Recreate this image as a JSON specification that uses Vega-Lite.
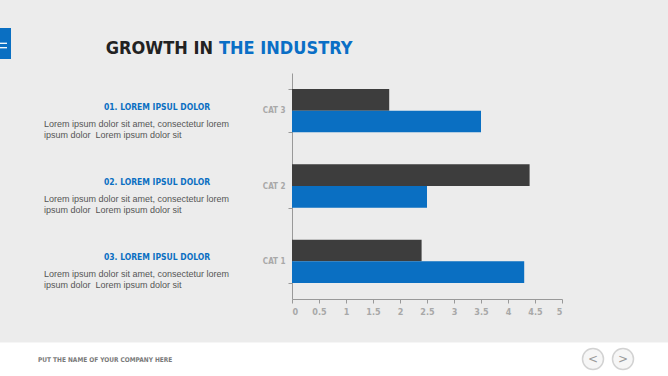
{
  "$schema": "https://vega.github.io/schema/vega-lite/v6.json",
  "autosize": {"type": "none"},
  "width": 270,
  "height": 226,
  "padding": {"left": 292, "top": 73, "right": 106, "bottom": 77},
  "background": "#ececec",
  "config": {
    "view": {"stroke": null},
    "font": "Liberation Sans"
  },
  "datasets": {
    "bars": [
      {"cat": "CAT 3", "series": "A", "value": 1.8},
      {"cat": "CAT 3", "series": "B", "value": 3.5},
      {"cat": "CAT 2", "series": "A", "value": 4.4},
      {"cat": "CAT 2", "series": "B", "value": 2.5},
      {"cat": "CAT 1", "series": "A", "value": 2.4},
      {"cat": "CAT 1", "series": "B", "value": 4.3}
    ],
    "desc": [
      {"cat": "CAT 3", "head": "01. LOREM IPSUL DOLOR", "l1": "Lorem ipsum dolor sit amet, consectetur lorem", "l2": "ipsum dolor\u00a0 Lorem ipsum dolor sit"},
      {"cat": "CAT 2", "head": "02. LOREM IPSUL DOLOR", "l1": "Lorem ipsum dolor sit amet, consectetur lorem", "l2": "ipsum dolor\u00a0 Lorem ipsum dolor sit"},
      {"cat": "CAT 1", "head": "03. LOREM IPSUL DOLOR", "l1": "Lorem ipsum dolor sit amet, consectetur lorem", "l2": "ipsum dolor\u00a0 Lorem ipsum dolor sit"}
    ],
    "one": [{"a": 1}],
    "nav": [{"k": "prev", "s": "<"}, {"k": "next", "s": ">"}]
  },
  "layer": [
    {
      "data": {"name": "one"},
      "mark": {"type": "rect", "color": "#ffffff"},
      "encoding": {
        "x": {"value": -292}, "x2": {"value": 376},
        "y": {"value": 269.5}, "y2": {"value": 303}
      }
    },
    {
      "data": {"name": "one"},
      "mark": {"type": "rect", "color": "#0a6fc2"},
      "encoding": {
        "x": {"value": -292}, "x2": {"value": -281},
        "y": {"value": -45}, "y2": {"value": -14}
      }
    },
    {
      "data": {"name": "one"},
      "mark": {"type": "rule", "color": "#ffffff", "strokeWidth": 1.3},
      "encoding": {
        "x": {"value": -292}, "x2": {"value": -285},
        "y": {"value": -29.7}
      }
    },
    {
      "data": {"name": "one"},
      "mark": {"type": "rule", "color": "#ffffff", "strokeWidth": 1.3},
      "encoding": {
        "x": {"value": -292}, "x2": {"value": -285},
        "y": {"value": -25.3}
      }
    },
    {
      "data": {"name": "one"},
      "mark": {"type": "text", "text": "GROWTH IN", "align": "right", "baseline": "alphabetic", "font": "DejaVu Sans Condensed, Liberation Sans Narrow, Roboto, sans-serif", "fontWeight": "bold", "fontSize": 18, "color": "#222222"},
      "encoding": {"x": {"value": -79}, "y": {"value": -19}}
    },
    {
      "data": {"name": "one"},
      "mark": {"type": "text", "text": "THE INDUSTRY", "align": "left", "baseline": "alphabetic", "font": "DejaVu Sans Condensed, Liberation Sans Narrow, Roboto, sans-serif", "fontWeight": "bold", "fontSize": 18, "color": "#0a6fc6"},
      "encoding": {"x": {"value": -73}, "y": {"value": -19}}
    },
    {
      "data": {"name": "bars"},
      "mark": {"type": "bar"},
      "encoding": {
        "y": {
          "field": "cat", "type": "nominal",
          "sort": ["CAT 3", "CAT 2", "CAT 1"],
          "scale": {"paddingInner": 0.425, "paddingOuter": 0.2125},
          "axis": {
            "title": null, "tickBand": "extent", "domainColor": "#999999", "tickColor": "#999999",
            "tickSize": 4, "labelColor": "#a8a8a8", "labelFont": "DejaVu Sans Condensed, Liberation Sans Narrow, Roboto, sans-serif",
            "labelFontWeight": "bold", "labelFontSize": 8, "labelPadding": 3
          }
        },
        "yOffset": {"field": "series", "type": "nominal", "sort": ["A", "B"], "scale": {"paddingInner": 0, "paddingOuter": 0}},
        "x": {
          "field": "value", "type": "quantitative",
          "scale": {"domain": [0, 5], "nice": false},
          "axis": {
            "title": null, "grid": false, "values": [0, 0.5, 1, 1.5, 2, 2.5, 3, 3.5, 4, 4.5, 5], "format": "~g",
            "domainColor": "#999999", "tickColor": "#999999", "tickSize": 4,
            "labelColor": "#a8a8a8", "labelFont": "DejaVu Sans Condensed, Liberation Sans Narrow, Roboto, sans-serif", "labelFontWeight": "bold",
            "labelFontSize": 9, "labelPadding": 4
          }
        },
        "color": {"field": "series", "type": "nominal", "scale": {"domain": ["A", "B"], "range": ["#3d3d3d", "#0a6fc2"]}, "legend": null}
      }
    },
    {
      "data": {"name": "desc"},
      "mark": {"type": "text", "align": "center", "baseline": "middle", "dy": -4, "font": "DejaVu Sans Condensed, Liberation Sans Narrow, Roboto, sans-serif", "fontWeight": "bold", "fontSize": 8.5, "color": "#0a6fc2"},
      "encoding": {
        "y": {"field": "cat", "type": "nominal", "sort": ["CAT 3", "CAT 2", "CAT 1"]},
        "x": {"value": -135},
        "text": {"field": "head"}
      }
    },
    {
      "data": {"name": "desc"},
      "mark": {"type": "text", "align": "left", "baseline": "middle", "dy": 13, "font": "Liberation Sans", "fontSize": 9, "color": "#555555"},
      "encoding": {
        "y": {"field": "cat", "type": "nominal", "sort": ["CAT 3", "CAT 2", "CAT 1"]},
        "x": {"value": -248},
        "text": {"field": "l1"}
      }
    },
    {
      "data": {"name": "desc"},
      "mark": {"type": "text", "align": "left", "baseline": "middle", "dy": 24, "font": "Liberation Sans", "fontSize": 9, "color": "#555555"},
      "encoding": {
        "y": {"field": "cat", "type": "nominal", "sort": ["CAT 3", "CAT 2", "CAT 1"]},
        "x": {"value": -248},
        "text": {"field": "l2"}
      }
    },
    {
      "data": {"name": "one"},
      "mark": {"type": "text", "text": "PUT THE NAME OF YOUR COMPANY HERE", "align": "left", "baseline": "middle", "font": "DejaVu Sans Condensed, Liberation Sans Narrow, Roboto, sans-serif", "fontWeight": "bold", "fontSize": 6.5, "color": "#7a7a7a"},
      "encoding": {"x": {"value": -254}, "y": {"value": 287}}
    },
    {
      "data": {"name": "nav"},
      "mark": {"type": "point", "shape": "circle", "size": 441, "filled": true, "fill": "#f6f6f6", "stroke": "#d2d2d2", "strokeWidth": 1.5, "opacity": 1},
      "encoding": {
        "x": {"field": "k", "type": "nominal", "scale": {"domain": ["prev", "next"], "range": [301, 331], "padding": 0}, "axis": null},
        "y": {"value": 286}
      }
    },
    {
      "data": {"name": "nav"},
      "mark": {"type": "text", "align": "center", "baseline": "middle", "font": "DejaVu Sans", "fontSize": 12, "color": "#9a9a9a"},
      "encoding": {
        "x": {"field": "k", "type": "nominal", "scale": {"domain": ["prev", "next"], "range": [301, 331], "padding": 0}, "axis": null},
        "y": {"value": 286},
        "text": {"field": "s"}
      }
    }
  ],
  "resolve": {"scale": {"x": "independent"}, "axis": {"x": "independent"}}
}
